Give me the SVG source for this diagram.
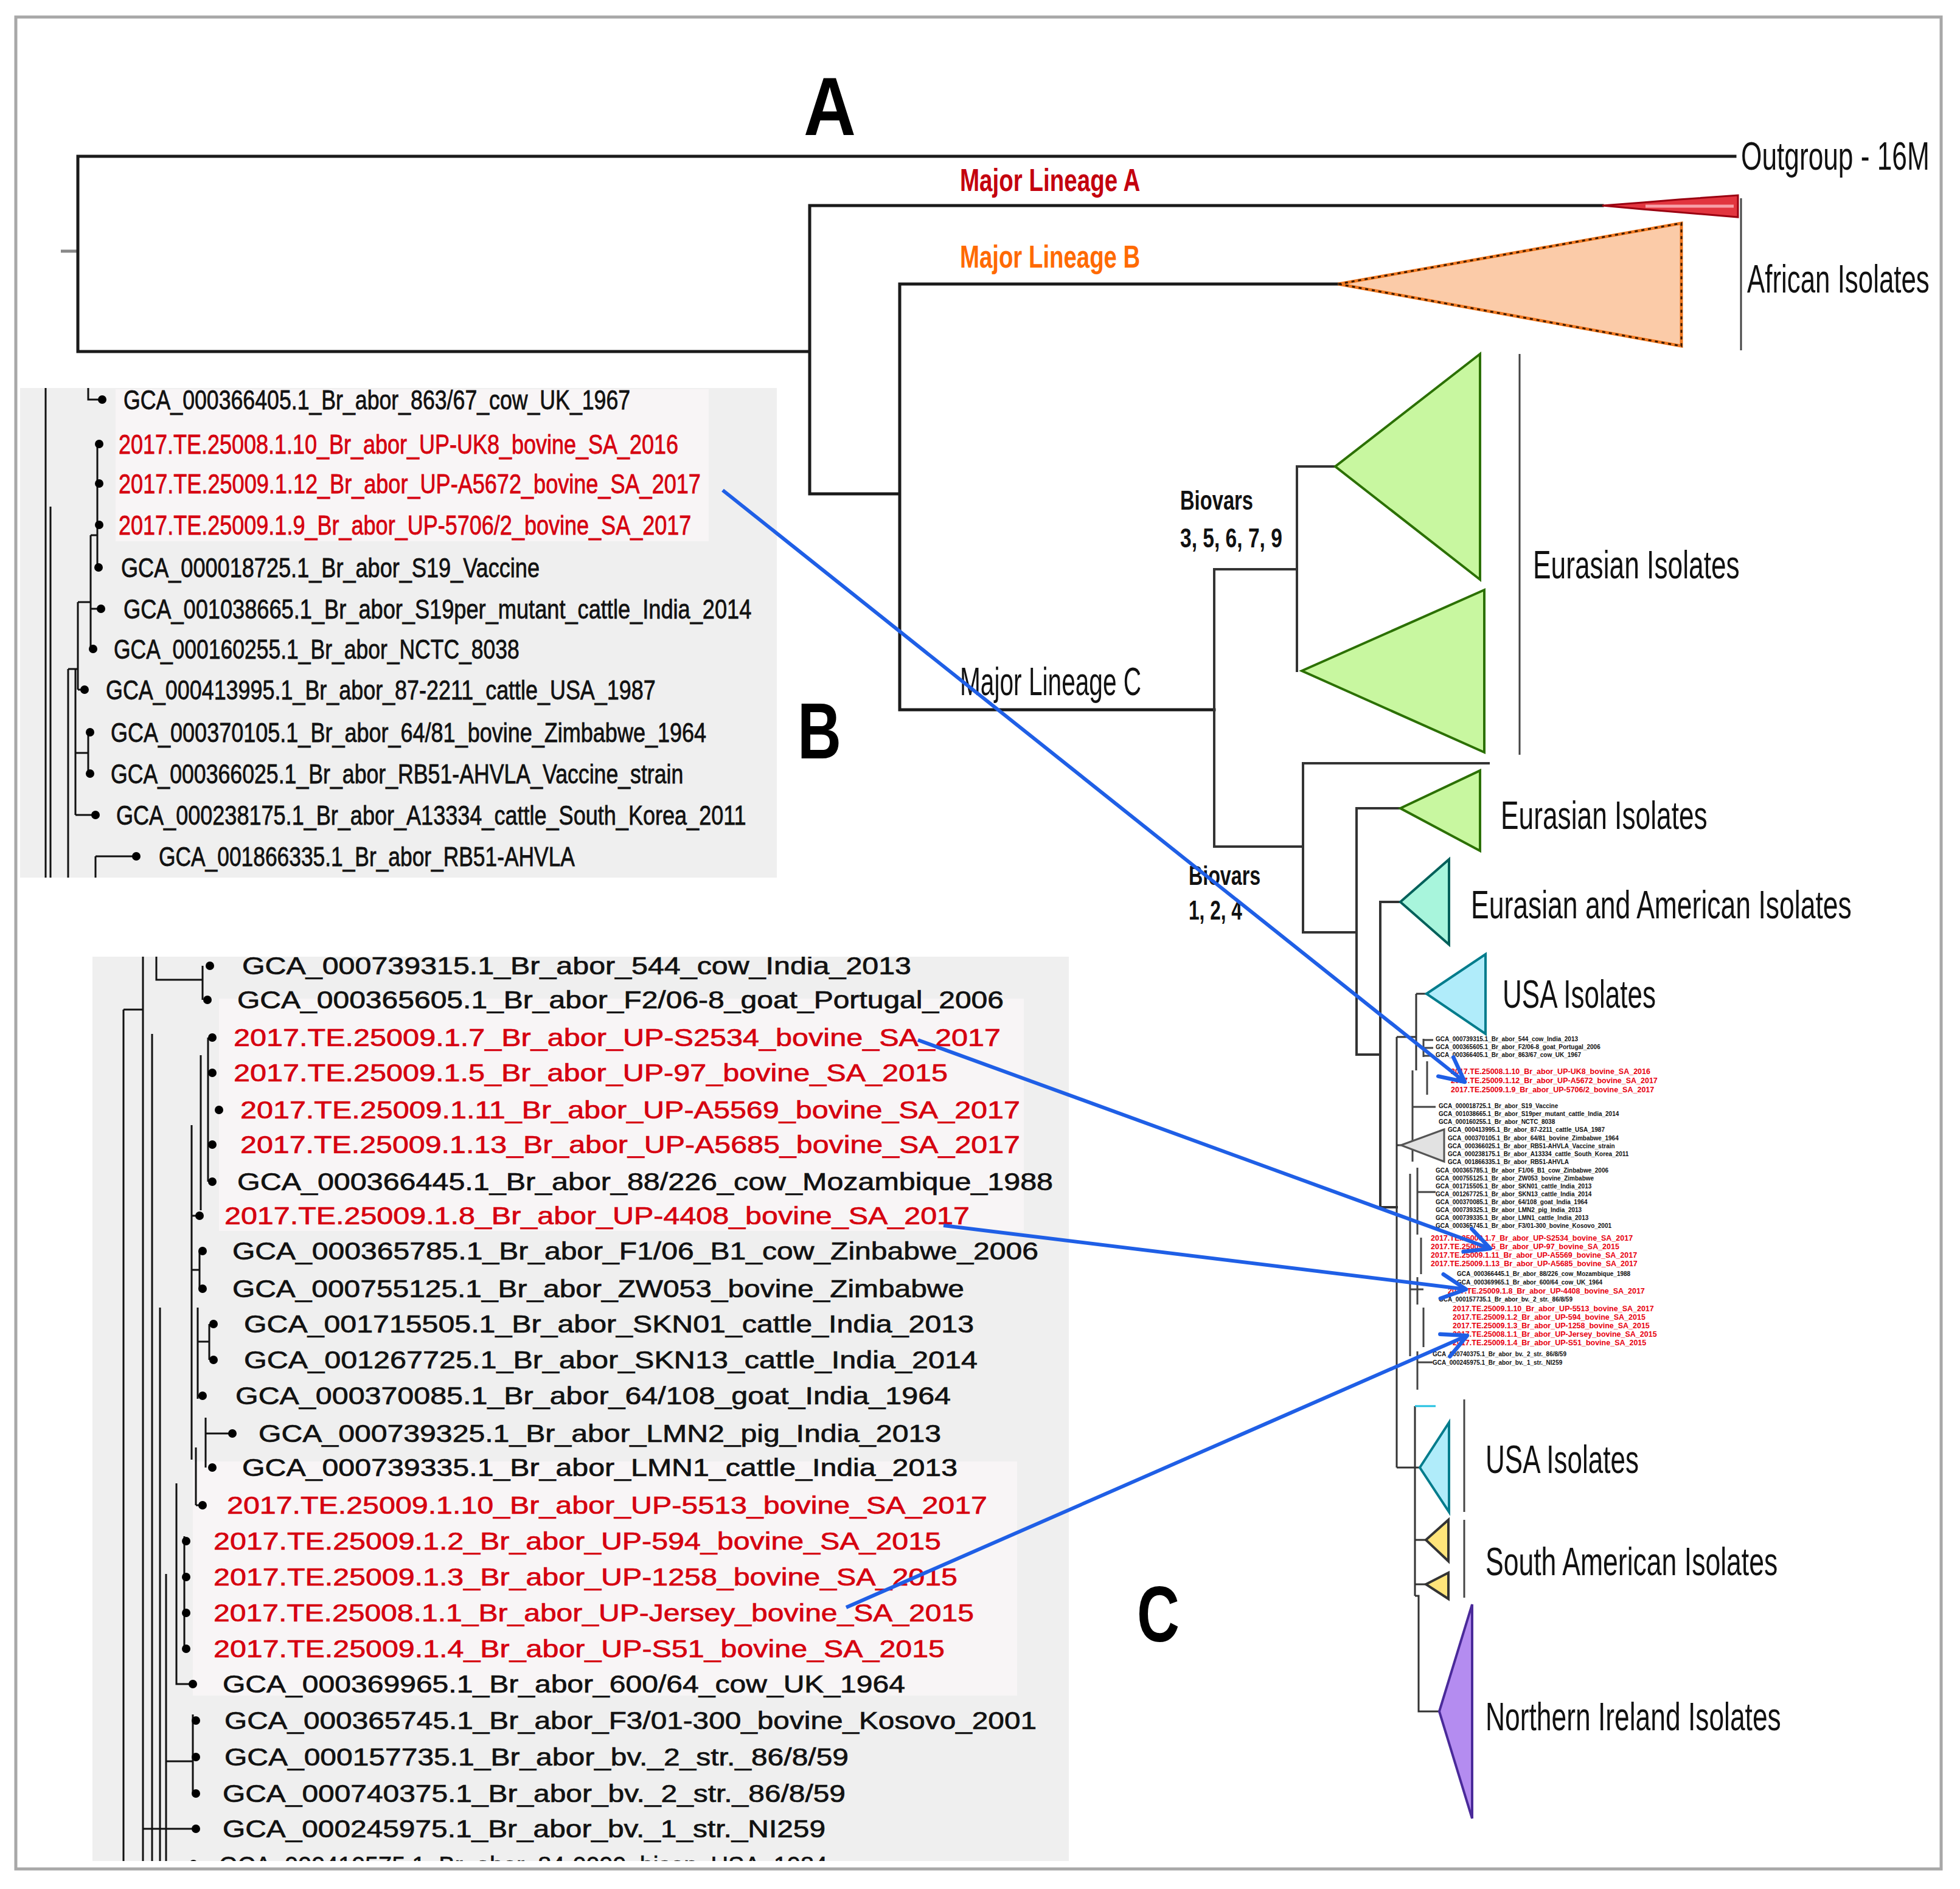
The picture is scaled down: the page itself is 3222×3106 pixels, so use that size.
<svg xmlns="http://www.w3.org/2000/svg" width="3222" height="3106" viewBox="0 0 3222 3106">
<defs>
<style>
.lbl{font-family:"Liberation Sans",Arial,sans-serif;font-size:64px;fill:#111}
.ml{font-family:"Liberation Sans",Arial,sans-serif;font-size:52px;font-weight:bold}
.bio{font-family:"Liberation Sans",Arial,sans-serif;font-size:44px;font-weight:bold;fill:#111}
.pl{font-family:"Liberation Sans",Arial,sans-serif;font-weight:bold;fill:#000}
.tb{font-family:"Liberation Sans",Arial,sans-serif;font-size:44px;fill:#111;stroke:#111;stroke-width:0.8}
.tc{font-family:"Liberation Sans",Arial,sans-serif;font-size:40px;fill:#111;stroke:#111;stroke-width:0.7}
.red{fill:#d6000f;stroke:#d6000f}
.tiny{font-family:"Liberation Sans",Arial,sans-serif;font-size:10px;font-weight:bold;fill:#111}
.tinyr{font-family:"Liberation Sans",Arial,sans-serif;font-size:12.5px;font-weight:bold;fill:#e8000f}
.br{stroke:#1a1a1a;stroke-width:5;fill:none;stroke-linecap:square}
.br4{stroke:#333;stroke-width:4;fill:none;stroke-linecap:square}
.br3{stroke:#333;stroke-width:3;fill:none}
.pt{stroke:#111;stroke-width:3;fill:none}
.bk{stroke:#444;stroke-width:3;fill:none}
.dot{fill:#000}
.arr{stroke:#1f5fe6;stroke-width:6;fill:none;marker-end:url(#ah)}
.grn{fill:#c8f7a0;stroke:#2b7000;stroke-width:4}
</style>
<marker id="ah" viewBox="0 0 10 10" refX="9" refY="5" markerWidth="50" markerHeight="50" markerUnits="userSpaceOnUse" orient="auto"><path d="M1,1 L9,5 L1,9" fill="none" stroke="#1f5fe6" stroke-width="1.3" stroke-linecap="round" stroke-linejoin="round"/></marker>
<clipPath id="clipC"><rect x="152" y="1573" width="1605" height="1487"/></clipPath>
</defs>
<rect x="0" y="0" width="3222" height="3106" fill="#fff"/>
<rect x="26" y="28" width="3165" height="3045" fill="none" stroke="#a8a8a8" stroke-width="5"/>

<g id="panel-labels">
<text class="pl" font-size="135" transform="translate(1321 222) scale(0.88 1)" textLength="97.7" lengthAdjust="spacingAndGlyphs">A</text>
<text class="pl" font-size="130" transform="translate(1311 1247) scale(0.77 1)" textLength="93.5" lengthAdjust="spacingAndGlyphs">B</text>
<text class="pl" font-size="130" transform="translate(1869 2699) scale(0.75 1)" textLength="93.3" lengthAdjust="spacingAndGlyphs">C</text>
</g>

<g id="tree-A">
<path d="M100,413H128" stroke="#888" stroke-width="5"/>
<path class="br" d="M128,257V578 M128,257H2852 M128,578H1331 M1331,338V812 M1331,338H2634 M1331,812H1479 M1479,467V1167 M1479,467H2200 M1479,1167H1996"/>
<path class="br4" d="M1996,936V1392 M1996,936H2132 M2132,767V1103 M2132,767H2195 M1996,1392H2142 M2142,1255V1533 M2142,1255H2447 M2142,1533H2230 M2230,1329V1734 M2230,1329H2302 M2230,1734H2269 M2269,1483V1985 M2269,1483H2302 M2269,1985H2296"/>
<path class="br3" d="M2296,1705V2413 M2296,1705H2328 M2328,1634V1760 M2328,1634H2345 M2296,1883H2303 M2296,2413H2326 M2326,2312V2624 M2326,2413H2334 M2326,2532H2344 M2326,2605H2344 M2326,2624H2332V2814H2366"/>
<path d="M2326,2312H2360" stroke="#20c0e0" stroke-width="3"/>
<path class="bk" stroke-width="2" d="M2340,1708V1738 M2340,1710H2356 M2340,1723H2356 M2340,1736H2356 M2346,1745V1800 M2322,1760V1910 M2322,1820H2360 M2330,1920V2030 M2318,1930V2230 M2336,2035V2095 M2330,2100V2145 M2340,2150V2215 M2330,2222V2285 M2330,1960H2360 M2318,2120H2340 M2330,2240H2355"/>
</g>

<g id="outgroup"><text class="lbl" transform="translate(2862 279) scale(0.69 1)" textLength="449" lengthAdjust="spacingAndGlyphs">Outgroup - 16M</text></g>

<g id="lineage-A">
<polygon points="2634,338 2700,333 2760,328 2857,321 2857,357 2760,349 2700,344" fill="#e2353f" stroke="#9a0010" stroke-width="3"/>
<path d="M2705,339H2850" stroke="#f7a0a8" stroke-width="5"/>
<text class="ml" fill="#c4000e" transform="translate(1578 314) scale(0.737 1)" textLength="402" lengthAdjust="spacingAndGlyphs">Major Lineage A</text>
</g>

<g id="lineage-B">
<polygon points="2200,467 2764,367 2764,569" fill="#fbcba8" stroke="#f07820" stroke-width="5"/>
<polygon points="2200,467 2764,367 2764,569" fill="none" stroke="#3a1a00" stroke-width="3" stroke-dasharray="5 6"/>
<text class="ml" fill="#ff6a00" transform="translate(1578 440) scale(0.737 1)" textLength="402" lengthAdjust="spacingAndGlyphs">Major Lineage B</text>
</g>

<g id="african">
<path d="M2862,326V576" class="bk"/>
<text class="lbl" transform="translate(2872 481) scale(0.686 1)" textLength="437" lengthAdjust="spacingAndGlyphs">African Isolates</text>
</g>

<g id="lineage-C"><text class="lbl" font-size="58" fill="#333" transform="translate(1578 1143) scale(0.7 1)" textLength="426" lengthAdjust="spacingAndGlyphs">Major Lineage C</text></g>

<g id="biovars-35679">
<text class="bio" transform="translate(1940 838) scale(0.743 1)" textLength="161.5" lengthAdjust="spacingAndGlyphs">Biovars</text>
<text class="bio" transform="translate(1940 900) scale(0.763 1)" textLength="220" lengthAdjust="spacingAndGlyphs">3, 5, 6, 7, 9</text>
</g>
<g id="biovars-124">
<text class="bio" transform="translate(1954 1455) scale(0.743 1)" textLength="159" lengthAdjust="spacingAndGlyphs">Biovars</text>
<text class="bio" transform="translate(1954 1512) scale(0.72 1)" textLength="122" lengthAdjust="spacingAndGlyphs">1, 2, 4</text>
</g>

<g id="eurasian-1">
<polygon class="grn" points="2195,767 2433,582 2433,953"/>
<polygon class="grn" points="2140,1103 2440,970 2440,1237"/>
<path d="M2498,582V1241" class="bk"/>
<text class="lbl" transform="translate(2520 951) scale(0.692 1)" textLength="491" lengthAdjust="spacingAndGlyphs">Eurasian Isolates</text>
</g>
<g id="eurasian-2">
<polygon class="grn" points="2302,1329 2433,1267 2433,1399"/>
<text class="lbl" transform="translate(2467 1363) scale(0.692 1)" textLength="491" lengthAdjust="spacingAndGlyphs">Eurasian Isolates</text>
</g>
<g id="eurasian-american">
<polygon points="2302,1483 2382,1413 2382,1553" fill="#a8f5dc" stroke="#00605a" stroke-width="4"/>
<text class="lbl" transform="translate(2418 1510) scale(0.693 1)" textLength="903" lengthAdjust="spacingAndGlyphs">Eurasian and American Isolates</text>
</g>
<g id="usa-1">
<polygon points="2345,1634 2442,1569 2442,1700" fill="#b0ecfa" stroke="#007c8c" stroke-width="4"/>
<text class="lbl" transform="translate(2470 1657) scale(0.681 1)" textLength="370" lengthAdjust="spacingAndGlyphs">USA Isolates</text>
</g>
<g id="grey-clade"><polygon points="2303,1883 2374,1857 2374,1910" fill="#e2e2e2" stroke="#555" stroke-width="3"/></g>

<g id="tiny-labels">
<text class="tiny" x="2360" y="1712">GCA_000739315.1_Br_abor_544_cow_India_2013</text>
<text class="tiny" x="2360" y="1725">GCA_000365605.1_Br_abor_F2/06-8_goat_Portugal_2006</text>
<text class="tiny" x="2360" y="1738">GCA_000366405.1_Br_abor_863/67_cow_UK_1967</text>
<text class="tinyr" x="2385" y="1766">2017.TE.25008.1.10_Br_abor_UP-UK8_bovine_SA_2016</text>
<text class="tinyr" x="2385" y="1781">2017.TE.25009.1.12_Br_abor_UP-A5672_bovine_SA_2017</text>
<text class="tinyr" x="2385" y="1796">2017.TE.25009.1.9_Br_abor_UP-5706/2_bovine_SA_2017</text>
<text class="tiny" x="2365" y="1822">GCA_000018725.1_Br_abor_S19_Vaccine</text>
<text class="tiny" x="2365" y="1835">GCA_001038665.1_Br_abor_S19per_mutant_cattle_India_2014</text>
<text class="tiny" x="2365" y="1848">GCA_000160255.1_Br_abor_NCTC_8038</text>
<text class="tiny" x="2380" y="1861">GCA_000413995.1_Br_abor_87-2211_cattle_USA_1987</text>
<text class="tiny" x="2380" y="1875">GCA_000370105.1_Br_abor_64/81_bovine_Zimbabwe_1964</text>
<text class="tiny" x="2380" y="1888">GCA_000366025.1_Br_abor_RB51-AHVLA_Vaccine_strain</text>
<text class="tiny" x="2380" y="1901">GCA_000238175.1_Br_abor_A13334_cattle_South_Korea_2011</text>
<text class="tiny" x="2380" y="1914">GCA_001866335.1_Br_abor_RB51-AHVLA</text>
<text class="tiny" x="2360" y="1928">GCA_000365785.1_Br_abor_F1/06_B1_cow_Zinbabwe_2006</text>
<text class="tiny" x="2360" y="1941">GCA_000755125.1_Br_abor_ZW053_bovine_Zimbabwe</text>
<text class="tiny" x="2360" y="1954">GCA_001715505.1_Br_abor_SKN01_cattle_India_2013</text>
<text class="tiny" x="2360" y="1967">GCA_001267725.1_Br_abor_SKN13_cattle_India_2014</text>
<text class="tiny" x="2360" y="1980">GCA_000370085.1_Br_abor_64/108_goat_India_1964</text>
<text class="tiny" x="2360" y="1993">GCA_000739325.1_Br_abor_LMN2_pig_India_2013</text>
<text class="tiny" x="2360" y="2006">GCA_000739335.1_Br_abor_LMN1_cattle_India_2013</text>
<text class="tiny" x="2360" y="2019">GCA_000365745.1_Br_abor_F3/01-300_bovine_Kosovo_2001</text>
<text class="tinyr" x="2352" y="2040">2017.TE.25009.1.7_Br_abor_UP-S2534_bovine_SA_2017</text>
<text class="tinyr" x="2352" y="2054">2017.TE.25009.1.5_Br_abor_UP-97_bovine_SA_2015</text>
<text class="tinyr" x="2352" y="2068">2017.TE.25009.1.11_Br_abor_UP-A5569_bovine_SA_2017</text>
<text class="tinyr" x="2352" y="2082">2017.TE.25009.1.13_Br_abor_UP-A5685_bovine_SA_2017</text>
<text class="tiny" x="2395" y="2098" fill="#0a4a4a">GCA_000366445.1_Br_abor_88/226_cow_Mozambique_1988</text>
<text class="tiny" x="2395" y="2112" fill="#0a4a4a">GCA_000369965.1_Br_abor_600/64_cow_UK_1964</text>
<text class="tinyr" x="2380" y="2127" font-weight="normal">2017.TE.25009.1.8_Br_abor_UP-4408_bovine_SA_2017</text>
<text class="tiny" x="2365" y="2140">GCA_000157735.1_Br_abor_bv._2_str._86/8/59</text>
<text class="tinyr" x="2388" y="2156">2017.TE.25009.1.10_Br_abor_UP-5513_bovine_SA_2017</text>
<text class="tinyr" x="2388" y="2170">2017.TE.25009.1.2_Br_abor_UP-594_bovine_SA_2015</text>
<text class="tinyr" x="2388" y="2184">2017.TE.25009.1.3_Br_abor_UP-1258_bovine_SA_2015</text>
<text class="tinyr" x="2388" y="2198">2017.TE.25008.1.1_Br_abor_UP-Jersey_bovine_SA_2015</text>
<text class="tinyr" x="2388" y="2212">2017.TE.25009.1.4_Br_abor_UP-S51_bovine_SA_2015</text>
<text class="tiny" x="2355" y="2230">GCA_000740375.1_Br_abor_bv._2_str._86/8/59</text>
<text class="tiny" x="2355" y="2244">GCA_000245975.1_Br_abor_bv._1_str._NI259</text>
</g>

<g id="usa-2">
<polygon points="2334,2413 2382,2339 2382,2486" fill="#b0ecfa" stroke="#007c8c" stroke-width="4"/>
<path d="M2407,2301V2486" class="bk"/>
<text class="lbl" transform="translate(2442 2422) scale(0.681 1)" textLength="370" lengthAdjust="spacingAndGlyphs">USA Isolates</text>
</g>
<g id="south-american">
<polygon points="2344,2532 2381,2499 2381,2567" fill="#ffe47a" stroke="#333" stroke-width="4"/>
<polygon points="2344,2605 2381,2586 2381,2629" fill="#ffe47a" stroke="#333" stroke-width="4"/>
<path d="M2407,2499V2627" class="bk"/>
<text class="lbl" transform="translate(2442 2590) scale(0.692 1)" textLength="694" lengthAdjust="spacingAndGlyphs">South American Isolates</text>
</g>
<g id="northern-ireland">
<polygon points="2366,2814 2420,2638 2420,2990" fill="#b48cf0" stroke="#4a2a9a" stroke-width="4"/>
<text class="lbl" transform="translate(2442 2845) scale(0.693 1)" textLength="701" lengthAdjust="spacingAndGlyphs">Northern Ireland Isolates</text>
</g>

<g id="panel-B">
<rect x="33" y="638" width="1244" height="805" fill="#efefef"/>
<rect x="190" y="640" width="975" height="250" fill="#f8f5f6"/>
<path class="pt" d="M75,638V1443 M83,833V1443 M145,638V657H168 M160,730V933 M149,880V1067 M149,1001H166 M149,880H160 M128,990V1134 M128,1134H139 M128,990H149 M145,1204V1272 M124,1100V1340 M124,1238H145 M124,1340H157 M112,1100V1443 M112,1100H128 M157,1408V1443 M157,1408H224"/>
<g class="dot"><circle cx="168" cy="657" r="7"/><circle cx="163" cy="730" r="7"/><circle cx="163" cy="795" r="7"/><circle cx="163" cy="863" r="7"/><circle cx="162" cy="933" r="7"/><circle cx="166" cy="1001" r="7"/><circle cx="153" cy="1067" r="7"/><circle cx="139" cy="1134" r="7"/><circle cx="148" cy="1204" r="7"/><circle cx="148" cy="1272" r="7"/><circle cx="157" cy="1340" r="7"/><circle cx="224" cy="1408" r="7"/></g>
<text class="tb" transform="translate(203 673) scale(0.82 1)" textLength="1016" lengthAdjust="spacingAndGlyphs">GCA_000366405.1_Br_abor_863/67_cow_UK_1967</text>
<text class="tb red" transform="translate(195 746) scale(0.82 1)" textLength="1122" lengthAdjust="spacingAndGlyphs">2017.TE.25008.1.10_Br_abor_UP-UK8_bovine_SA_2016</text>
<text class="tb red" transform="translate(195 811) scale(0.82 1)" textLength="1167" lengthAdjust="spacingAndGlyphs">2017.TE.25009.1.12_Br_abor_UP-A5672_bovine_SA_2017</text>
<text class="tb red" transform="translate(195 879) scale(0.82 1)" textLength="1148" lengthAdjust="spacingAndGlyphs">2017.TE.25009.1.9_Br_abor_UP-5706/2_bovine_SA_2017</text>
<text class="tb" transform="translate(199 949) scale(0.82 1)" textLength="839" lengthAdjust="spacingAndGlyphs">GCA_000018725.1_Br_abor_S19_Vaccine</text>
<text class="tb" transform="translate(203 1017) scale(0.82 1)" textLength="1259" lengthAdjust="spacingAndGlyphs">GCA_001038665.1_Br_abor_S19per_mutant_cattle_India_2014</text>
<text class="tb" transform="translate(187 1083) scale(0.82 1)" textLength="813" lengthAdjust="spacingAndGlyphs">GCA_000160255.1_Br_abor_NCTC_8038</text>
<text class="tb" transform="translate(174 1150) scale(0.82 1)" textLength="1102" lengthAdjust="spacingAndGlyphs">GCA_000413995.1_Br_abor_87-2211_cattle_USA_1987</text>
<text class="tb" transform="translate(182 1220) scale(0.82 1)" textLength="1194" lengthAdjust="spacingAndGlyphs">GCA_000370105.1_Br_abor_64/81_bovine_Zimbabwe_1964</text>
<text class="tb" transform="translate(182 1288) scale(0.82 1)" textLength="1148" lengthAdjust="spacingAndGlyphs">GCA_000366025.1_Br_abor_RB51-AHVLA_Vaccine_strain</text>
<text class="tb" transform="translate(191 1356) scale(0.82 1)" textLength="1263" lengthAdjust="spacingAndGlyphs">GCA_000238175.1_Br_abor_A13334_cattle_South_Korea_2011</text>
<text class="tb" transform="translate(261 1424) scale(0.82 1)" textLength="834" lengthAdjust="spacingAndGlyphs">GCA_001866335.1_Br_abor_RB51-AHVLA</text>
</g>

<g id="panel-C">
<rect x="152" y="1573" width="1605" height="1487" fill="#efefef"/>
<rect x="360" y="1642" width="1323" height="382" fill="#f8f5f6"/>
<rect x="317" y="2403" width="1355" height="385" fill="#f8f5f6"/>
<g clip-path="url(#clipC)">
<path class="pt" d="M235,1573V3060 M203,1660V3060 M203,1660H235 M257,1573V1611H333 M333,1588V1644 M342,1706V1943 M330,1735V1990 M315,1850V2400 M315,1999H328 M328,2057V2119 M315,2088H328 M344,2177V2236 M325,2150V2300 M325,2206H344 M325,2295H333 M338,2331V2413 M338,2357H382 M322,2380V2475 M322,2475H333 M303,2526V2711 M290,2439V2769H317 M317,2819V2949 M273,2896H317 M235,3007H322 M273,2588V3060 M263,2150V3060 M250,1700V3060"/>
<g class="dot"><circle cx="345" cy="1588" r="7"/><circle cx="341" cy="1644" r="7"/><circle cx="349" cy="1706" r="7"/><circle cx="349" cy="1764" r="7"/><circle cx="360" cy="1825" r="7"/><circle cx="349" cy="1882" r="7"/><circle cx="349" cy="1943" r="7"/><circle cx="328" cy="1999" r="7"/><circle cx="333" cy="2057" r="7"/><circle cx="333" cy="2119" r="7"/><circle cx="351" cy="2177" r="7"/><circle cx="351" cy="2236" r="7"/><circle cx="333" cy="2295" r="7"/><circle cx="382" cy="2357" r="7"/><circle cx="349" cy="2413" r="7"/><circle cx="333" cy="2475" r="7"/><circle cx="306" cy="2534" r="7"/><circle cx="306" cy="2593" r="7"/><circle cx="306" cy="2652" r="7"/><circle cx="306" cy="2711" r="7"/><circle cx="317" cy="2769" r="7"/><circle cx="322" cy="2829" r="7"/><circle cx="322" cy="2889" r="7"/><circle cx="322" cy="2949" r="7"/><circle cx="322" cy="3007" r="7"/><circle cx="318" cy="3065" r="7"/></g>
<text class="tc" x="398" y="1602" textLength="1100" lengthAdjust="spacingAndGlyphs">GCA_000739315.1_Br_abor_544_cow_India_2013</text>
<text class="tc" x="390" y="1658" textLength="1260" lengthAdjust="spacingAndGlyphs">GCA_000365605.1_Br_abor_F2/06-8_goat_Portugal_2006</text>
<text class="tc red" x="384" y="1720" textLength="1261" lengthAdjust="spacingAndGlyphs">2017.TE.25009.1.7_Br_abor_UP-S2534_bovine_SA_2017</text>
<text class="tc red" x="384" y="1778" textLength="1174" lengthAdjust="spacingAndGlyphs">2017.TE.25009.1.5_Br_abor_UP-97_bovine_SA_2015</text>
<text class="tc red" x="395" y="1839" textLength="1282" lengthAdjust="spacingAndGlyphs">2017.TE.25009.1.11_Br_abor_UP-A5569_bovine_SA_2017</text>
<text class="tc red" x="395" y="1896" textLength="1282" lengthAdjust="spacingAndGlyphs">2017.TE.25009.1.13_Br_abor_UP-A5685_bovine_SA_2017</text>
<text class="tc" x="390" y="1957" textLength="1341" lengthAdjust="spacingAndGlyphs">GCA_000366445.1_Br_abor_88/226_cow_Mozambique_1988</text>
<text class="tc red" x="369" y="2013" textLength="1225" lengthAdjust="spacingAndGlyphs">2017.TE.25009.1.8_Br_abor_UP-4408_bovine_SA_2017</text>
<text class="tc" x="382" y="2071" textLength="1325" lengthAdjust="spacingAndGlyphs">GCA_000365785.1_Br_abor_F1/06_B1_cow_Zinbabwe_2006</text>
<text class="tc" x="382" y="2133" textLength="1203" lengthAdjust="spacingAndGlyphs">GCA_000755125.1_Br_abor_ZW053_bovine_Zimbabwe</text>
<text class="tc" x="401" y="2191" textLength="1200" lengthAdjust="spacingAndGlyphs">GCA_001715505.1_Br_abor_SKN01_cattle_India_2013</text>
<text class="tc" x="401" y="2250" textLength="1206" lengthAdjust="spacingAndGlyphs">GCA_001267725.1_Br_abor_SKN13_cattle_India_2014</text>
<text class="tc" x="387" y="2309" textLength="1176" lengthAdjust="spacingAndGlyphs">GCA_000370085.1_Br_abor_64/108_goat_India_1964</text>
<text class="tc" x="425" y="2371" textLength="1122" lengthAdjust="spacingAndGlyphs">GCA_000739325.1_Br_abor_LMN2_pig_India_2013</text>
<text class="tc" x="398" y="2427" textLength="1176" lengthAdjust="spacingAndGlyphs">GCA_000739335.1_Br_abor_LMN1_cattle_India_2013</text>
<text class="tc red" x="373" y="2489" textLength="1250" lengthAdjust="spacingAndGlyphs">2017.TE.25009.1.10_Br_abor_UP-5513_bovine_SA_2017</text>
<text class="tc red" x="351" y="2548" textLength="1196" lengthAdjust="spacingAndGlyphs">2017.TE.25009.1.2_Br_abor_UP-594_bovine_SA_2015</text>
<text class="tc red" x="351" y="2607" textLength="1223" lengthAdjust="spacingAndGlyphs">2017.TE.25009.1.3_Br_abor_UP-1258_bovine_SA_2015</text>
<text class="tc red" x="351" y="2666" textLength="1250" lengthAdjust="spacingAndGlyphs">2017.TE.25008.1.1_Br_abor_UP-Jersey_bovine_SA_2015</text>
<text class="tc red" x="351" y="2725" textLength="1202" lengthAdjust="spacingAndGlyphs">2017.TE.25009.1.4_Br_abor_UP-S51_bovine_SA_2015</text>
<text class="tc" x="366" y="2783" textLength="1122" lengthAdjust="spacingAndGlyphs">GCA_000369965.1_Br_abor_600/64_cow_UK_1964</text>
<text class="tc" x="369" y="2843" textLength="1335" lengthAdjust="spacingAndGlyphs">GCA_000365745.1_Br_abor_F3/01-300_bovine_Kosovo_2001</text>
<text class="tc" x="369" y="2903" textLength="1026" lengthAdjust="spacingAndGlyphs">GCA_000157735.1_Br_abor_bv._2_str._86/8/59</text>
<text class="tc" x="366" y="2963" textLength="1024" lengthAdjust="spacingAndGlyphs">GCA_000740375.1_Br_abor_bv._2_str._86/8/59</text>
<text class="tc" x="366" y="3021" textLength="991" lengthAdjust="spacingAndGlyphs">GCA_000245975.1_Br_abor_bv._1_str._NI259</text>
<text class="tc" x="360" y="3081" textLength="1000" lengthAdjust="spacingAndGlyphs">GCA_000410575.1_Br_abor_84-0099_bison_USA_1984</text>
</g>
</g>

<g id="connectors">
<path class="arr" d="M1188,806 L2408,1779"/>
<path class="arr" d="M1509,1710 L2450,2053"/>
<path class="arr" d="M1551,2015 L2410,2120"/>
<path class="arr" d="M1391,2643 L2412,2196"/>
</g>
</svg>
